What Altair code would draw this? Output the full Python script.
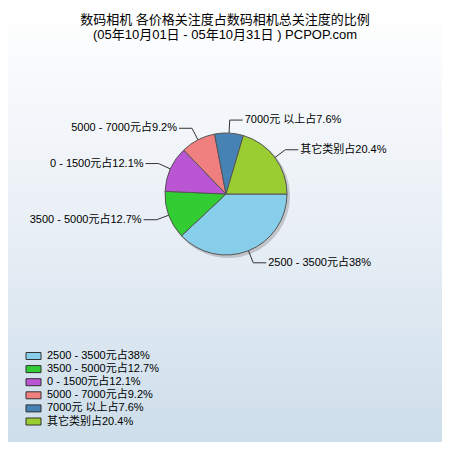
import math
import altair as alt
import pandas as pd

# ---- data ----
categories = ["2500 - 3500元", "3500 - 5000元", "0 - 1500元", "5000 - 7000元", "7000元 以上", "其它类别"]
shares = [38, 12.7, 12.1, 9.2, 7.6, 20.4]
colors = ["#87CEEB", "#32CD32", "#BA55D3", "#F08080", "#4682B4", "#9ACD32"]
title_lines = ["数码相机 各价格关注度占数码相机总关注度的比例", "(05年10月01日 - 05年10月31日 ) PCPOP.com"]

df = pd.DataFrame({
    "idx": list(range(len(categories))),
    "cat": categories,
    "value": shares,
    "label": [f"{c}占{v:g}%" for c, v in zip(categories, shares)],
})

# ---- layout ----
W = H = 434
CX, CY, R = 218, 186, 61
R2 = 74          # leader elbow radius
HL = 13          # horizontal leader length
FONT = "Liberation Sans, Arial, Noto Sans CJK SC, sans-serif"
LEG_X0, LEG_X1, LEG_TX = 18, 33, 39
LEG_Y0, LEG_STEP, LEG_HALF = 348, 13.1, 3.5

def X(f):
    return alt.X(f"{f}:Q", scale=alt.Scale(domain=[0, W], nice=False, zero=False), axis=None)

def Y(f):
    return alt.Y(f"{f}:Q", scale=alt.Scale(domain=[0, H], nice=False, zero=False, reverse=True), axis=None)

color = alt.Color("cat:N", scale=alt.Scale(domain=categories, range=colors), legend=None)

base = alt.Chart(df)

bg = alt.Chart(pd.DataFrame({"a": [0]})).mark_rect(
    color=alt.LinearGradient(
        gradient="linear", x1=0, y1=0, x2=0, y2=1,
        stops=[alt.GradientStop(color="#ffffff", offset=0),
               alt.GradientStop(color="#fbfcfd", offset=0.08),
               alt.GradientStop(color="#e9eff6", offset=0.5),
               alt.GradientStop(color="#cddeea", offset=1)])
).encode(x=alt.value(0), x2=alt.value(W), y=alt.value(0), y2=alt.value(H))

theta = alt.Theta("value:Q", stack=True, scale=alt.Scale(range=[math.pi / 2, math.pi / 2 + 2 * math.pi]))

shadow = base.mark_arc(outerRadius=R + 1, color="#777", opacity=0.35).encode(
    theta=theta, order=alt.Order("idx:Q"), x=alt.value(CX + 2), y=alt.value(CY + 2))

pie = base.mark_arc(outerRadius=R, stroke="#555", strokeWidth=1).encode(
    theta=theta, color=color, order=alt.Order("idx:Q"), x=alt.value(CX), y=alt.value(CY))

geo = base.transform_joinaggregate(total="sum(value)").transform_window(
    cum="sum(value)", sort=[alt.SortField("idx")], frame=[None, 0]
).transform_calculate(
    mid=f"(datum.cum - datum.value/2)/datum.total*2*PI"
).transform_calculate(
    ex=f"{CX} + {R}*cos(datum.mid)", ey=f"{CY} + {R}*sin(datum.mid)",
    bx=f"{CX} + {R2}*cos(datum.mid)", by=f"{CY} + {R2}*sin(datum.mid)",
    side="cos(datum.mid) >= 0 ? 1 : -1",
).transform_calculate(
    hx=f"datum.bx + datum.side*{HL}",
).transform_calculate(
    tx="datum.hx + datum.side*2",
)

lead1 = geo.mark_rule(color="#333", strokeWidth=1).encode(x=X("ex"), y=Y("ey"), x2="bx:Q", y2="by:Q")
lead2 = geo.mark_rule(color="#333", strokeWidth=1).encode(x=X("bx"), y=Y("by"), x2="hx:Q", y2="by:Q")

txt_r = geo.transform_filter("datum.side > 0").mark_text(
    align="left", baseline="middle", font=FONT, fontSize=11, color="#000"
).encode(x=X("tx"), y=Y("by"), text="label:N")
txt_l = geo.transform_filter("datum.side < 0").mark_text(
    align="right", baseline="middle", font=FONT, fontSize=11, color="#000"
).encode(x=X("tx"), y=Y("by"), text="label:N")

leg = base.transform_calculate(
    ly=f"{LEG_Y0} + datum.idx*{LEG_STEP}",
    lx0=f"{LEG_X0}", lx1=f"{LEG_X1}", ltx=f"{LEG_TX}",
).transform_calculate(
    ly0=f"datum.ly - {LEG_HALF}", ly1=f"datum.ly + {LEG_HALF}",
)
leg_shadow = leg.mark_rect(color="#444", xOffset=2, yOffset=2, opacity=0.8).encode(
    x=X("lx0"), x2="lx1:Q", y=Y("ly0"), y2="ly1:Q")
leg_box = leg.mark_rect(stroke="#333", strokeWidth=1).encode(
    x=X("lx0"), x2="lx1:Q", y=Y("ly0"), y2="ly1:Q", color=color)
leg_txt = leg.mark_text(align="left", baseline="middle", font=FONT, fontSize=11, color="#000").encode(
    x=X("ltx"), y=Y("ly"), text="label:N")

tdf = pd.DataFrame({"t": title_lines, "i": [0, 1]})
title = alt.Chart(tdf).transform_calculate(
    ty="12 + datum.i*15", tx="217"
).mark_text(align="center", baseline="middle", font=FONT, fontSize=13, color="#000").encode(
    x=X("tx"), y=Y("ty"), text="t:N")

chart = alt.layer(bg, shadow, pie, lead1, lead2, txt_r, txt_l, leg_shadow, leg_box, leg_txt, title).properties(
    width=W, height=H, autosize="none", padding=0
).configure_view(stroke=None)

chart.save("out.html", embed_options={"renderer": "svg", "actions": False})
